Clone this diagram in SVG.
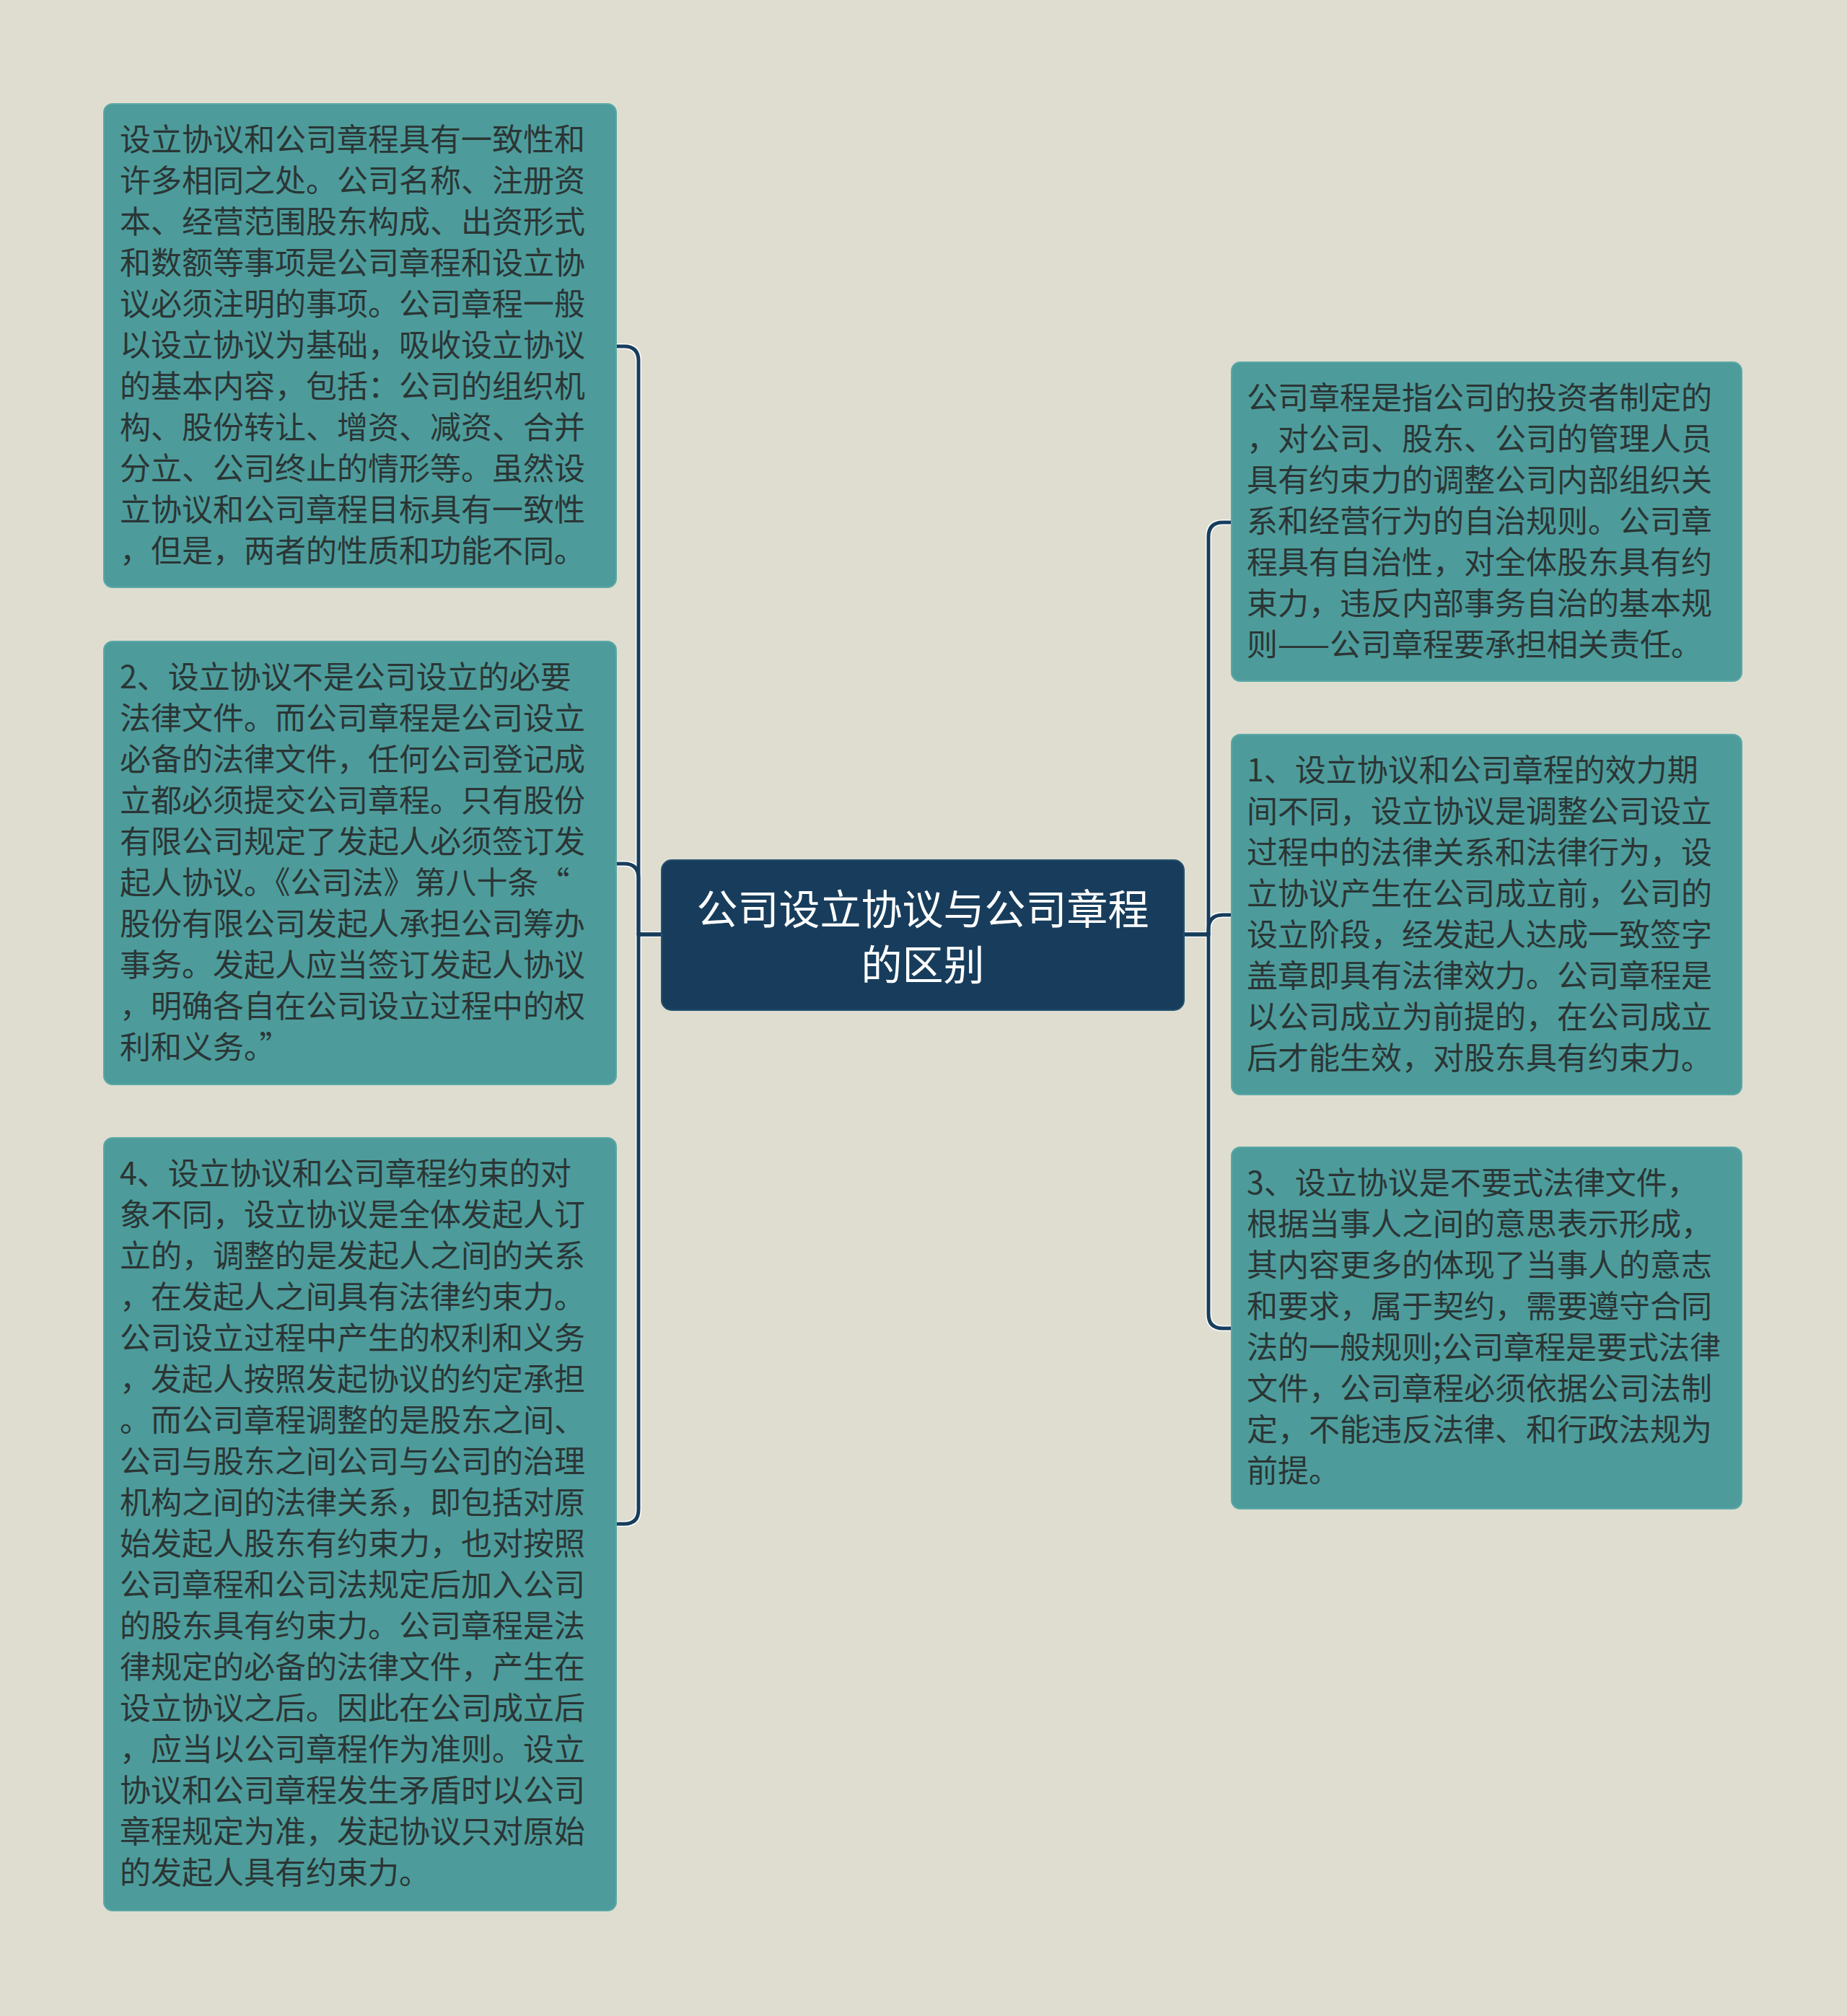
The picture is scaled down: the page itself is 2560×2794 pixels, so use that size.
<svg xmlns="http://www.w3.org/2000/svg" width="2560" height="2794" viewBox="0 0 2560 2794">
  <style>
    .bg { fill: #dfddd0; }
    .node { fill: #4d9c9b; stroke: #5aa8a6; stroke-width: 2; }
    .root { fill: #183d5c; stroke: #24506f; stroke-width: 2; }
    .t { font-family: "Noto Sans CJK SC", "Noto Sans", sans-serif; font-size: 43px; fill: #2b3535; }
    .rt { font-family: "Noto Sans CJK SC", "Noto Sans", sans-serif; font-size: 57px; fill: #ffffff; text-anchor: middle; }
    .halo { fill: none; stroke: #ffffff; stroke-width: 8; stroke-linejoin: round; }
    .edge { fill: none; stroke: #183d5c; stroke-width: 5; stroke-linejoin: round; }
  </style>
  <rect class="bg" x="0" y="0" width="2560" height="2794"/>

  <g id="connectors">
    <g class="halo-group">
      <path class="halo" d="M917,1295 H885 V500 Q885,480 865,480 H854"/>
      <path class="halo" d="M917,1295 H885 V1217 Q885,1197 865,1197 H854"/>
      <path class="halo" d="M917,1295 H885 V2092 Q885,2112 865,2112 H854"/>
      <path class="halo" d="M1641,1295 H1675 V744 Q1675,724 1695,724 H1707"/>
      <path class="halo" d="M1641,1295 H1675 V1288 Q1675,1268 1695,1268 H1707"/>
      <path class="halo" d="M1641,1295 H1675 V1821 Q1675,1841 1695,1841 H1707"/>
    </g>
    <path class="edge" d="M917,1295 H885 V500 Q885,480 865,480 H854"/>
    <path class="edge" d="M917,1295 H885 V1217 Q885,1197 865,1197 H854"/>
    <path class="edge" d="M917,1295 H885 V2092 Q885,2112 865,2112 H854"/>
    <path class="edge" d="M1641,1295 H1675 V744 Q1675,724 1695,724 H1707"/>
    <path class="edge" d="M1641,1295 H1675 V1288 Q1675,1268 1695,1268 H1707"/>
    <path class="edge" d="M1641,1295 H1675 V1821 Q1675,1841 1695,1841 H1707"/>
  </g>

  <g id="root">
    <rect class="root" x="917" y="1192" width="724" height="208" rx="14"/>
    <text class="rt" x="1279" y="1281">公司设立协议与公司章程</text>
    <text class="rt" x="1279" y="1358">的区别</text>
  </g>

  <g id="node-l1">
    <rect class="node" x="144" y="144" width="710" height="670" rx="12"/>
    <text class="t" x="166" y="209">设立协议和公司章程具有一致性和</text>
    <text class="t" x="166" y="266">许多相同之处。公司名称、注册资</text>
    <text class="t" x="166" y="323">本、经营范围股东构成、出资形式</text>
    <text class="t" x="166" y="380">和数额等事项是公司章程和设立协</text>
    <text class="t" x="166" y="437">议必须注明的事项。公司章程一般</text>
    <text class="t" x="166" y="494">以设立协议为基础，吸收设立协议</text>
    <text class="t" x="166" y="551">的基本内容，包括：公司的组织机</text>
    <text class="t" x="166" y="608">构、股份转让、增资、减资、合并</text>
    <text class="t" x="166" y="665">分立、公司终止的情形等。虽然设</text>
    <text class="t" x="166" y="722">立协议和公司章程目标具有一致性</text>
    <text class="t" x="166" y="779">，但是，两者的性质和功能不同。</text>
  </g>

  <g id="node-l2">
    <rect class="node" x="144" y="889" width="710" height="614" rx="12"/>
    <text class="t" x="166" y="954">2、设立协议不是公司设立的必要</text>
    <text class="t" x="166" y="1011">法律文件。而公司章程是公司设立</text>
    <text class="t" x="166" y="1068">必备的法律文件，任何公司登记成</text>
    <text class="t" x="166" y="1125">立都必须提交公司章程。只有股份</text>
    <text class="t" x="166" y="1182">有限公司规定了发起人必须签订发</text>
    <text class="t" x="166" y="1239">起人协议。《公司法》第八十条“</text>
    <text class="t" x="166" y="1296">股份有限公司发起人承担公司筹办</text>
    <text class="t" x="166" y="1353">事务。发起人应当签订发起人协议</text>
    <text class="t" x="166" y="1410">，明确各自在公司设立过程中的权</text>
    <text class="t" x="166" y="1467">利和义务。”</text>
  </g>

  <g id="node-l3">
    <rect class="node" x="144" y="1577" width="710" height="1071" rx="12"/>
    <text class="t" x="166" y="1642">4、设立协议和公司章程约束的对</text>
    <text class="t" x="166" y="1699">象不同，设立协议是全体发起人订</text>
    <text class="t" x="166" y="1756">立的，调整的是发起人之间的关系</text>
    <text class="t" x="166" y="1813">，在发起人之间具有法律约束力。</text>
    <text class="t" x="166" y="1870">公司设立过程中产生的权利和义务</text>
    <text class="t" x="166" y="1927">，发起人按照发起协议的约定承担</text>
    <text class="t" x="166" y="1984">。而公司章程调整的是股东之间、</text>
    <text class="t" x="166" y="2041">公司与股东之间公司与公司的治理</text>
    <text class="t" x="166" y="2098">机构之间的法律关系，即包括对原</text>
    <text class="t" x="166" y="2155">始发起人股东有约束力，也对按照</text>
    <text class="t" x="166" y="2212">公司章程和公司法规定后加入公司</text>
    <text class="t" x="166" y="2269">的股东具有约束力。公司章程是法</text>
    <text class="t" x="166" y="2326">律规定的必备的法律文件，产生在</text>
    <text class="t" x="166" y="2383">设立协议之后。因此在公司成立后</text>
    <text class="t" x="166" y="2440">，应当以公司章程作为准则。设立</text>
    <text class="t" x="166" y="2497">协议和公司章程发生矛盾时以公司</text>
    <text class="t" x="166" y="2554">章程规定为准，发起协议只对原始</text>
    <text class="t" x="166" y="2611">的发起人具有约束力。</text>
  </g>

  <g id="node-r1">
    <rect class="node" x="1707" y="502" width="707" height="442" rx="12"/>
    <text class="t" x="1728" y="567">公司章程是指公司的投资者制定的</text>
    <text class="t" x="1728" y="624">，对公司、股东、公司的管理人员</text>
    <text class="t" x="1728" y="681">具有约束力的调整公司内部组织关</text>
    <text class="t" x="1728" y="738">系和经营行为的自治规则。公司章</text>
    <text class="t" x="1728" y="795">程具有自治性，对全体股东具有约</text>
    <text class="t" x="1728" y="852">束力，违反内部事务自治的基本规</text>
    <text class="t" x="1728" y="909">则——公司章程要承担相关责任。</text>
  </g>

  <g id="node-r2">
    <rect class="node" x="1707" y="1018" width="707" height="499" rx="12"/>
    <text class="t" x="1728" y="1083">1、设立协议和公司章程的效力期</text>
    <text class="t" x="1728" y="1140">间不同，设立协议是调整公司设立</text>
    <text class="t" x="1728" y="1197">过程中的法律关系和法律行为，设</text>
    <text class="t" x="1728" y="1254">立协议产生在公司成立前，公司的</text>
    <text class="t" x="1728" y="1311">设立阶段，经发起人达成一致签字</text>
    <text class="t" x="1728" y="1368">盖章即具有法律效力。公司章程是</text>
    <text class="t" x="1728" y="1425">以公司成立为前提的，在公司成立</text>
    <text class="t" x="1728" y="1482">后才能生效，对股东具有约束力。</text>
  </g>

  <g id="node-r3">
    <rect class="node" x="1707" y="1590" width="707" height="501" rx="12"/>
    <text class="t" x="1728" y="1655">3、设立协议是不要式法律文件，</text>
    <text class="t" x="1728" y="1712">根据当事人之间的意思表示形成，</text>
    <text class="t" x="1728" y="1769">其内容更多的体现了当事人的意志</text>
    <text class="t" x="1728" y="1826">和要求，属于契约，需要遵守合同</text>
    <text class="t" x="1728" y="1883">法的一般规则;公司章程是要式法律</text>
    <text class="t" x="1728" y="1940">文件，公司章程必须依据公司法制</text>
    <text class="t" x="1728" y="1997">定，不能违反法律、和行政法规为</text>
    <text class="t" x="1728" y="2054">前提。</text>
  </g>
</svg>
